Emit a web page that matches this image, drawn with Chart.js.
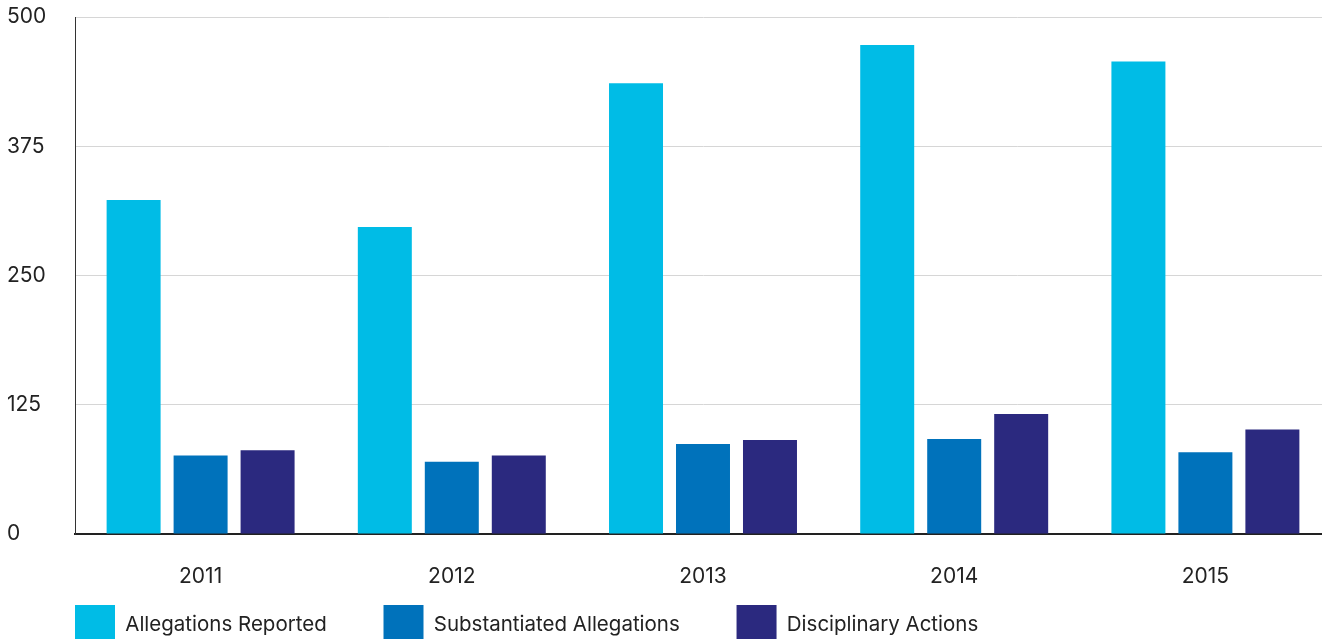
<!DOCTYPE html>
<html lang="en">
<head>
  <meta charset="UTF-8">
  <title>Allegations and Disciplinary Actions</title>
  <script src="https://cdn.jsdelivr.net/npm/chart.js"></script>
  <style>
    html, body { margin: 0; padding: 0; background: #fff; overflow: hidden; }
    .wrap { width: 1322px; height: 639px; overflow: hidden; position: relative; }
    canvas { display: block; }
  </style>
</head>
<body>
  <div class="wrap">
    <canvas id="grafica" width="1331" height="726"></canvas>
  </div>

  <script>
    // datos
    var years = ['2011', '2012', '2013', '2014', '2015'];
    var allegationsReported = [323, 297, 436, 473, 457];
    var substantiatedAllegations = [76, 70, 87, 92, 79];
    var disciplinaryActions = [81, 76, 91, 116, 101];
    var yTicks = [0, 125, 250, 375, 500];

    var fuente = "Inter, 'Open Sans', sans-serif";
    var espacioLeyenda = 56.75;

    // mueve la leyenda a su sitio
    var moverLeyenda = {
      id: 'moverLeyenda',
      afterLayout: function (chart) {
        if (chart.legend) {
          chart.legend.left = 75 - espacioLeyenda;
          chart.legend.top = 605 - espacioLeyenda;
        }
      }
    };

    new Chart(document.getElementById('grafica'), {
      type: 'bar',
      data: {
        labels: years,
        datasets: [
          { label: 'Allegations Reported', data: allegationsReported, backgroundColor: '#00BCE6' },
          { label: 'Substantiated Allegations', data: substantiatedAllegations, backgroundColor: '#0072BB' },
          { label: 'Disciplinary Actions', data: disciplinaryActions, backgroundColor: '#2B297F' }
        ]
      },
      options: {
        responsive: false,
        animation: false,
        devicePixelRatio: 1,
        layout: { padding: { top: 17, left: 7, right: 0, bottom: 0 } },
        datasets: {
          bar: { categoryPercentage: 0.8, barPercentage: 0.806 }
        },
        plugins: {
          tooltip: { enabled: false },
          legend: {
            position: 'bottom',
            align: 'start',
            labels: {
              boxWidth: 40,
              boxHeight: 40,
              padding: espacioLeyenda,
              color: '#222',
              font: { family: fuente, size: 20.5 }
            }
          }
        },
        scales: {
          x: {
            grid: { display: false, drawTicks: false },
            border: { display: true, color: '#222', width: 2 },
            ticks: { color: '#222', padding: 30, font: { family: fuente, size: 21 } }
          },
          y: {
            min: 0,
            max: 500,
            afterBuildTicks: function (scale) {
              scale.ticks = yTicks.map(function (v) { return { value: v }; });
            },
            afterFit: function (scale) { scale.width = 68; },
            grid: { color: '#d6d6d6', lineWidth: 1, drawTicks: false },
            border: { display: true, color: '#333', width: 1 },
            ticks: {
              crossAlign: 'far',
              color: '#222',
              font: { family: fuente, size: 21 }
            }
          }
        }
      },
      plugins: [moverLeyenda]
    });
  </script>
</body>
</html>
